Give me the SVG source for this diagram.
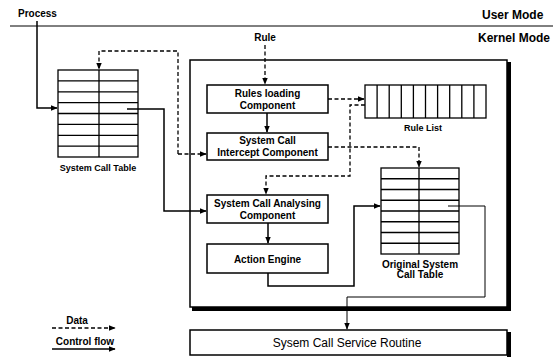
<svg xmlns="http://www.w3.org/2000/svg" width="555" height="358" viewBox="0 0 555 358">
<style>
text{font-family:"Liberation Sans",Arial,sans-serif;fill:#000}
.b{font-weight:bold;font-size:10px}
.s{font-weight:bold;font-size:9px}
.m{font-weight:bold;font-size:12px}
.box{fill:#fff;stroke:#000;stroke-width:1.5}
.tbl{fill:none;stroke:#000;stroke-width:1.3}
.ctl{fill:none;stroke:#000;stroke-width:1.5}
.thin{fill:none;stroke:#000;stroke-width:1}
.dat{fill:none;stroke:#000;stroke-width:1.3;stroke-dasharray:4 2.5}
</style>
<defs>
<marker id="ah" viewBox="0 0 10 10" refX="9" refY="5" markerWidth="7" markerHeight="7" markerUnits="userSpaceOnUse" orient="auto">
<path d="M0,1 L10,5 L0,9 Z" fill="#000"/>
</marker>
</defs>
<rect width="555" height="358" fill="#fff"/>

<g id="modes">
<line x1="10" y1="26" x2="553" y2="26" stroke="#000" stroke-width="1"/>
<text class="m" x="482" y="19">User Mode</text>
<text class="m" x="478" y="42">Kernel Mode</text>
<text class="b" x="18" y="17">Process</text>
<text class="b" x="265" y="41" text-anchor="middle">Rule</text>
</g>

<g id="kernel-box">
<rect x="190" y="60" width="317" height="247" fill="#fff" stroke="#000" stroke-width="1.5"/>
<line x1="509" y1="62" x2="509" y2="310" stroke="#000" stroke-width="4"/>
<line x1="192" y1="309" x2="511" y2="309" stroke="#000" stroke-width="4"/>
</g>

<g id="system-call-table">
<rect class="tbl" x="58" y="70" width="80" height="87"/>
<path class="tbl" d="M99,70V157 M58,80.9H138 M58,91.8H138 M58,102.6H138 M58,113.5H138 M58,124.4H138 M58,135.3H138 M58,146.1H138"/>
<text class="s" x="98" y="171" text-anchor="middle">System Call Table</text>
</g>

<g id="rules-loading">
<rect class="box" x="207" y="85" width="121" height="28"/>
<text class="b" x="267.5" y="96.5" text-anchor="middle">Rules loading</text>
<text class="b" x="267.5" y="108.5" text-anchor="middle">Component</text>
</g>

<g id="intercept">
<rect class="box" x="207" y="133" width="121" height="27"/>
<text class="b" x="267.5" y="143.5" text-anchor="middle">System Call</text>
<text class="b" x="267.5" y="155.5" text-anchor="middle">Intercept Component</text>
</g>

<g id="analysing">
<rect class="box" x="207" y="195" width="121" height="28"/>
<text class="b" x="267.5" y="206.5" text-anchor="middle">System Call Analysing</text>
<text class="b" x="267.5" y="218.5" text-anchor="middle">Component</text>
</g>

<g id="action-engine">
<rect class="box" x="207" y="244" width="121" height="29"/>
<text class="b" x="267.5" y="262.5" text-anchor="middle">Action Engine</text>
</g>

<g id="rule-list">
<rect class="tbl" x="365" y="85" width="121" height="33"/>
<path class="tbl" d="M377.1,85V118 M389.2,85V118 M401.3,85V118 M413.4,85V118 M425.5,85V118 M437.6,85V118 M449.7,85V118 M461.8,85V118 M473.9,85V118"/>
<text class="s" x="423" y="131" text-anchor="middle">Rule List</text>
</g>

<g id="original-table">
<rect class="tbl" x="381" y="168" width="78" height="86"/>
<path class="tbl" d="M419,168V254 M381,178.75H459 M381,189.5H459 M381,200.25H459 M381,211H459 M381,221.75H459 M381,232.5H459 M381,243.25H459"/>
<text class="b" x="420" y="268" text-anchor="middle">Original System</text>
<text class="b" x="420" y="278" text-anchor="middle">Call Table</text>
</g>

<g id="service-routine">
<rect x="190" y="330" width="317" height="25" fill="#fff" stroke="#000" stroke-width="1.5"/>
<line x1="509" y1="332" x2="509" y2="357" stroke="#000" stroke-width="4"/>
<text x="347" y="346.5" text-anchor="middle" font-size="12px">Sysem Call Service Routine</text>
</g>

<g id="legend">
<text class="b" x="77" y="324" text-anchor="middle">Data</text>
<line class="dat" x1="52" y1="328" x2="115" y2="328" marker-end="url(#ah)"/>
<text class="b" x="85" y="345" text-anchor="middle">Control flow</text>
<line class="ctl" x1="52" y1="349" x2="115" y2="349" marker-end="url(#ah)"/>
</g>

<g id="connectors">
<path class="ctl" d="M37,21V108H57" marker-end="url(#ah)"/>
<path class="dat" d="M178,154V51H99V69" marker-end="url(#ah)"/>
<path class="dat" d="M178,154H206" marker-end="url(#ah)"/>
<path class="ctl" d="M127,109H164V211H206" marker-end="url(#ah)"/>
<path class="dat" d="M265,45V84" marker-end="url(#ah)"/>
<path class="ctl" d="M267,113V132" marker-end="url(#ah)"/>
<path class="dat" d="M328,99H364" marker-end="url(#ah)"/>
<path class="dat" d="M365,105H350V176H266V194" marker-end="url(#ah)"/>
<path class="dat" d="M328,147H419V167" marker-end="url(#ah)"/>
<path class="ctl" d="M268,223V243" marker-end="url(#ah)"/>
<path class="ctl" d="M268,273V286H354V206H380" marker-end="url(#ah)"/>
<path class="thin" d="M448,206H485V297H347V329" marker-end="url(#ah)"/>
</g>
</svg>
